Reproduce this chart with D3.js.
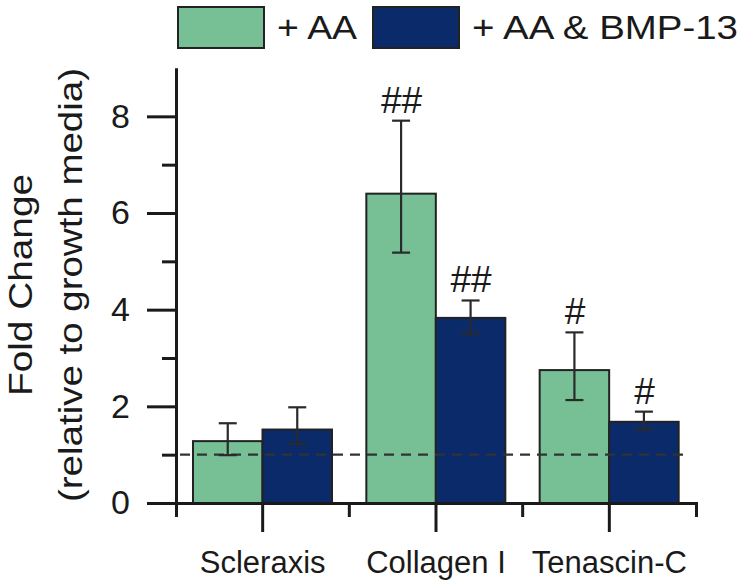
<!DOCTYPE html>
<html>
<head>
<meta charset="utf-8">
<script src="https://cdn.jsdelivr.net/npm/d3@7"></script>
<style>
  body { margin: 0; background: #fff; }
  svg text { font-family: "Liberation Sans", Arial, Helvetica, sans-serif; fill: #1a1a1a; }
</style>
</head>
<body>
<div id="chart"></div>
<script>
const width = 750, height = 588;

// data
const categories = ["Scleraxis", "Collagen I", "Tenascin-C"];
const series = ["+ AA", "+ AA & BMP-13"];
const colors = ["#77c095", "#0a2a6a"];
const aaValues   = [1.28, 6.40, 2.75];
const aaErrHi    = [1.65, 7.91, 3.53];
const aaErrLo    = [0.99, 5.18, 2.13];
const bmpValues  = [1.52, 3.83, 1.68];
const bmpErrHi   = [1.98, 4.19, 1.89];
const bmpErrLo   = [1.22, 3.50, 1.52];
const aaSig  = ["", "##", "#"];
const bmpSig = ["", "##", "#"];
const baseline = 1;
const majorTicks = [0, 2, 4, 6, 8];
const minorTicks = [1, 3, 5, 7];

const rows = [];
categories.forEach((c, i) => {
  rows.push({cat: c, s: series[0], v: aaValues[i], hi: aaErrHi[i], lo: aaErrLo[i], sig: aaSig[i]});
  rows.push({cat: c, s: series[1], v: bmpValues[i], hi: bmpErrHi[i], lo: bmpErrLo[i], sig: bmpSig[i]});
});

const svg = d3.select("#chart").append("svg")
  .attr("width", width)
  .attr("height", height);

const y = d3.scaleLinear().domain([0, 9]).range([503, 68]);
const x0 = d3.scaleBand().domain(categories).range([176, 696]);
const x1 = d3.scaleBand().domain(series).range([17, 156]);
const color = d3.scaleOrdinal().domain(series).range(colors);

// bars
svg.append("g").selectAll("rect")
  .data(rows)
  .enter().append("rect")
  .attr("x", d => x0(d.cat) + x1(d.s))
  .attr("y", d => y(d.v))
  .attr("width", x1.bandwidth())
  .attr("height", d => y(0) - y(d.v))
  .attr("fill", d => color(d.s))
  .attr("stroke", "#222")
  .attr("stroke-width", 2);

// dashed reference line
svg.append("line")
  .attr("x1", 180).attr("x2", 690)
  .attr("y1", y(baseline)).attr("y2", y(baseline))
  .attr("stroke", "#333")
  .attr("stroke-width", 2.2)
  .attr("stroke-dasharray", "10,7");

// error bars
const eb = svg.append("g").selectAll("g")
  .data(rows)
  .enter().append("g")
  .attr("transform", d => `translate(${x0(d.cat) + x1(d.s) + x1.bandwidth() / 2},0)`)
  .attr("stroke", "#2a2a2a")
  .attr("stroke-width", 2.2);
eb.append("line").attr("y1", d => y(d.lo)).attr("y2", d => y(d.hi));
eb.append("line").attr("x1", -9).attr("x2", 9).attr("y1", d => y(d.hi)).attr("y2", d => y(d.hi));
eb.append("line").attr("x1", -9).attr("x2", 9).attr("y1", d => y(d.lo)).attr("y2", d => y(d.lo));

// significance marks
svg.append("g").selectAll("text")
  .data(rows.filter(d => d.sig))
  .enter().append("text")
  .attr("x", d => x0(d.cat) + x1(d.s) + x1.bandwidth() / 2)
  .attr("y", d => y(d.hi) - 8)
  .attr("text-anchor", "middle")
  .style("font-size", "37px")
  .style("font-style", "italic")
  .text(d => d.sig);

// Y axis
const yAxis = svg.append("g").attr("transform", "translate(176,0)");
yAxis.call(d3.axisLeft(y).tickValues(majorTicks).tickSize(29).tickSizeOuter(0).tickPadding(17));
yAxis.append("g").call(d3.axisLeft(y).tickValues(minorTicks).tickSize(14).tickSizeOuter(0).tickFormat(""));
yAxis.selectAll("path, line").attr("stroke", "#1a1a1a").attr("stroke-width", 3);
yAxis.selectAll("text").style("font-size", "34px").attr("fill", "#1a1a1a")
  .attr("font-family", "Liberation Sans, Arial, sans-serif");

// X axis
const xAxis = svg.append("g").attr("transform", `translate(0,${y(0)})`);
xAxis.call(d3.axisBottom(x0).tickSize(29).tickSizeOuter(14).tickPadding(19));
xAxis.selectAll("line.inner")
  .data(categories.slice(1))
  .enter().append("line")
  .attr("class", "inner")
  .attr("x1", d => x0(d)).attr("x2", d => x0(d))
  .attr("y1", 0).attr("y2", 14);
xAxis.selectAll("path, line").attr("stroke", "#1a1a1a").attr("stroke-width", 3);
xAxis.selectAll("text").style("font-size", "31px").attr("fill", "#1a1a1a")
  .attr("font-family", "Liberation Sans, Arial, sans-serif");

// Y label
const yLab = svg.append("g").attr("transform", "translate(0,285) rotate(-90)");
yLab.append("text")
  .attr("x", 0).attr("y", 32)
  .attr("text-anchor", "middle")
  .attr("textLength", 222).attr("lengthAdjust", "spacingAndGlyphs")
  .style("font-size", "34px")
  .text("Fold Change");
yLab.append("text")
  .attr("x", 0).attr("y", 82)
  .attr("text-anchor", "middle")
  .attr("textLength", 434).attr("lengthAdjust", "spacingAndGlyphs")
  .style("font-size", "34px")
  .text("(relative to growth media)");

// legend
const legendX = [178, 373];
const legendTextLen = [80, 266];
const legend = svg.append("g").selectAll("g")
  .data(series)
  .enter().append("g")
  .attr("transform", (d, i) => `translate(${legendX[i]},7)`);
legend.append("rect")
  .attr("width", 86).attr("height", 41)
  .attr("fill", d => color(d))
  .attr("stroke", "#222").attr("stroke-width", 2);
legend.append("text")
  .attr("x", 99).attr("y", 32)
  .attr("textLength", (d, i) => legendTextLen[i]).attr("lengthAdjust", "spacingAndGlyphs")
  .style("font-size", "33px")
  .text(d => d);
</script>
</body>
</html>
